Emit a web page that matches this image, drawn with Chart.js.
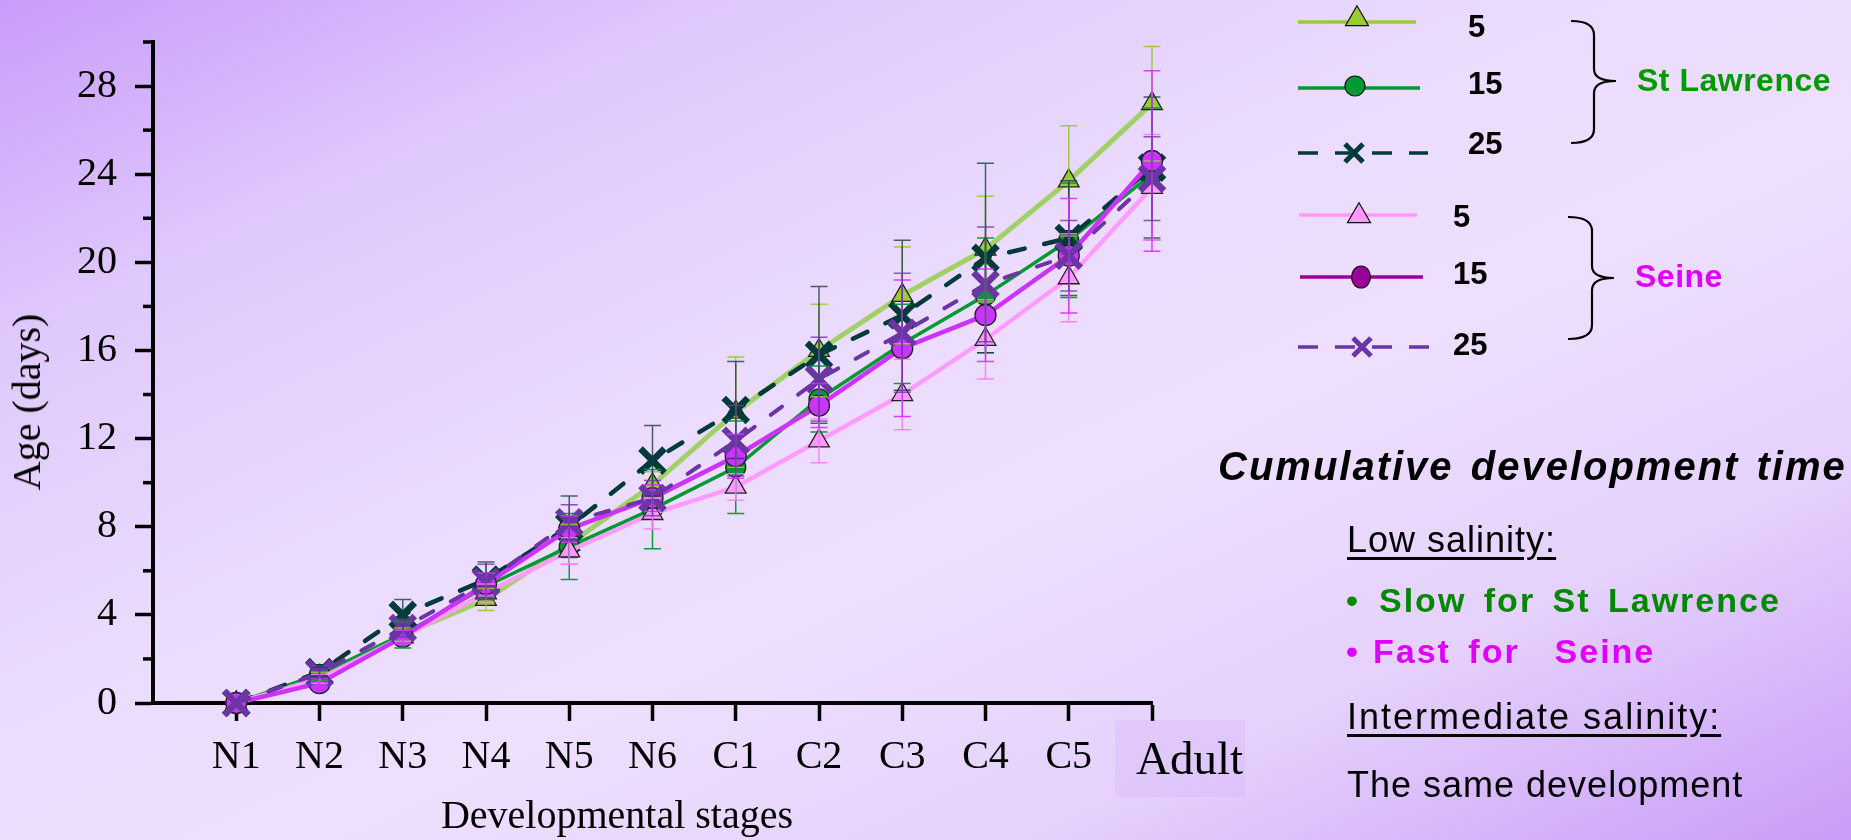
<!DOCTYPE html>
<html>
<head>
<meta charset="utf-8">
<script src="https://cdn.jsdelivr.net/npm/chart.js@4.4.1/dist/chart.umd.min.js"></script>
<style>
  html, body { margin: 0; padding: 0; }
  body {
    width: 1851px; height: 840px; overflow: hidden; position: relative;
    background: linear-gradient(to bottom right, #c99cfb 0%, #dfc8fc 20%, #ebdbfd 42%, #eedffd 58%, #e5d1fc 78%, #c99cf7 100%);
  }
  #wrap { position: absolute; left: 0; top: 0; width: 1851px; height: 840px; }
  .t { position: absolute; white-space: pre; line-height: 1; color: #000; }
  .serif { font-family: "Liberation Serif", "Times New Roman", serif; }
  .sans { font-family: "Liberation Sans", Arial, sans-serif; }
  .num { font-size: 31px; font-weight: bold; }
  .grp { font-size: 32px; font-weight: bold; letter-spacing: 0.5px; }
  .ul { text-decoration: underline; text-decoration-thickness: 3px; text-underline-offset: 5px; }
  .note { font-size: 36px; letter-spacing: 1px; }
  .bul { font-size: 34px; font-weight: bold; letter-spacing: 2px; word-spacing: 6px; }
  #adultBox { position: absolute; left: 1115px; top: 720px; width: 130px; height: 77px; background: rgba(205, 165, 250, 0.22); }
</style>
</head>
<body>
<div id="wrap"><canvas id="devChart" width="1851" height="840"></canvas></div>

<div id="adultBox"></div>
<div class="t serif" id="adultLabel" style="left:1136px; top:735px; font-size:47px;"></div>
<div class="t serif" style="left:617px; top:795px; font-size:40px; transform:translateX(-50%);">Developmental stages</div>
<div class="t serif" style="left:27px; top:402px; font-size:40px; transform:translate(-50%,-50%) rotate(-90deg);">Age (days)</div>

<div class="t sans num" style="left:1468px; top:11px;">5</div>
<div class="t sans num" style="left:1468px; top:68px;">15</div>
<div class="t sans num" style="left:1468px; top:128px;">25</div>
<div class="t sans num" style="left:1453px; top:201px;">5</div>
<div class="t sans num" style="left:1453px; top:258px;">15</div>
<div class="t sans num" style="left:1453px; top:329px;">25</div>
<div class="t sans grp" style="left:1637px; top:64px; color:#009900;">St Lawrence</div>
<div class="t sans grp" style="left:1635px; top:260px; color:#dd00ff;">Seine</div>

<div class="t sans" style="left:1218px; top:446px; font-size:40px; font-weight:bold; font-style:italic; letter-spacing:2px; word-spacing:4px;">Cumulative development time</div>
<div class="t sans note ul" style="left:1347px; top:522px;">Low salinity:</div>
<div class="t sans bul" style="left:1346px; top:583px; color:#008800;">•</div>
<div class="t sans bul" style="left:1379px; top:583px; color:#008800;">Slow for St Lawrence</div>
<div class="t sans bul" style="left:1346px; top:634px; color:#dd00ff;">•</div>
<div class="t sans bul" style="left:1373px; top:634px; color:#dd00ff;">Fast for  Seine</div>
<div class="t sans note ul" style="left:1347px; top:699px; letter-spacing:2px;">Intermediate salinity:</div>
<div class="t sans note" style="left:1347px; top:767px;">The same development</div>

<script>
// stages on the x axis
const stageLabels = ["N1", "N2", "N3", "N4", "N5", "N6", "C1", "C2", "C3", "C4", "C5", "Adult"];

// mean cumulative age (days) per salinity
const stLawrence5 = [0, 1.2, 3.1, 4.7, 7.2, 9.9, 13.2, 16.0, 18.5, 20.6, 23.7, 27.2];
const stLawrence15 = [0, 1.3, 3.1, 5.3, 7.1, 8.8, 10.7, 13.8, 16.3, 18.5, 21.0, 24.0];
const stLawrence25 = [0, 1.4, 4.0, 5.6, 8.0, 11.0, 13.3, 15.8, 17.6, 20.2, 21.1, 24.3];
const seine5 = [0, 1.1, 3.0, 5.0, 6.9, 8.6, 9.8, 11.9, 14.0, 16.5, 19.3, 23.4];
const seine15 = [0, 0.9, 3.0, 5.4, 7.9, 9.3, 11.2, 13.5, 16.1, 17.6, 20.3, 24.6];
const seine25 = [0, 1.35, 3.4, 5.5, 8.2, 9.3, 11.9, 14.7, 16.8, 19.0, 20.3, 23.8];

// error bars (+/-)
const stLawrence5Err = [0, 0.2, 0.3, 0.5, 0.9, 0.6, 2.5, 2.1, 2.2, 2.4, 2.5, 2.6];
const stLawrence15Err = [0, 0.3, 0.6, 0.6, 1.5, 1.8, 2.1, 1.5, 1.8, 2.6, 2.6, 3.0];
const stLawrence25Err = [0, 0.2, 0.7, 0.8, 1.4, 1.6, 2.2, 3.1, 3.4, 4.3, 2.6, 3.2];
const seine5Err = [0, 0.2, 0.3, 0.4, 0.6, 0.7, 0.6, 1.0, 1.6, 1.8, 2.0, 2.4];
const seine15Err = [0, 0.2, 0.3, 0.5, 0.6, 0.6, 1.0, 1.0, 3.1, 2.1, 2.6, 4.1];
const seine25Err = [0, 0.2, 0.4, 0.8, 0.8, 0.8, 1.6, 1.9, 2.7, 2.6, 1.6, 1.9];

document.getElementById("adultLabel").textContent = stageLabels[11];

const pts = (values) => values.map((v, i) => ({ x: i, y: v }));

// --- error bars, drawn over the points ---
const errorBars = {
  id: "errorBars",
  afterDatasetsDraw(chart) {
    const { ctx, scales: { x, y } } = chart;
    ctx.save();
    ctx.lineWidth = 1.5;
    chart.data.datasets.slice().sort((a, b) => b.order - a.order).forEach((ds) => {
      ctx.strokeStyle = ds.errColor;
      ds.err.forEach((e, i) => {
        if (!e) return;
        const v = ds.data[i].y;
        const px = x.getPixelForValue(i);
        const top = y.getPixelForValue(v + e);
        const bot = y.getPixelForValue(v - e);
        ctx.beginPath();
        ctx.moveTo(px, top); ctx.lineTo(px, bot);
        ctx.moveTo(px - 8.5, top); ctx.lineTo(px + 8.5, top);
        ctx.moveTo(px - 8.5, bot); ctx.lineTo(px + 8.5, bot);
        ctx.stroke();
      });
    });
    ctx.restore();
  }
};

// --- short unlabelled ticks on the y axis ---
const minorTicks = {
  id: "minorTicks",
  afterDraw(chart) {
    const { ctx, scales: { y }, chartArea } = chart;
    ctx.save();
    ctx.strokeStyle = "#000";
    ctx.lineWidth = 3.5;
    for (let v = 2; v <= 30; v += 4) {
      const py = y.getPixelForValue(v);
      ctx.beginPath();
      ctx.moveTo(chartArea.left - 10, py);
      ctx.lineTo(chartArea.left, py);
      ctx.stroke();
    }
    ctx.restore();
  }
};

// --- legend with braces ---
function triangle(ctx, x, y, r) {
  ctx.beginPath();
  ctx.moveTo(x, y - r);
  ctx.lineTo(x + r * 0.866, y + r / 2);
  ctx.lineTo(x - r * 0.866, y + r / 2);
  ctx.closePath();
  ctx.fill(); ctx.stroke();
}
function cross(ctx, x, y, h) {
  ctx.beginPath();
  ctx.moveTo(x - h, y - h); ctx.lineTo(x + h, y + h);
  ctx.moveTo(x + h, y - h); ctx.lineTo(x - h, y + h);
  ctx.stroke();
}
function brace(ctx, x0, xm, xp, y0, ym, y1) {
  ctx.beginPath();
  ctx.moveTo(x0, y0);
  ctx.quadraticCurveTo(xm, y0, xm, y0 + 14);
  ctx.lineTo(xm, ym - 12);
  ctx.quadraticCurveTo(xm, ym, xp, ym);
  ctx.quadraticCurveTo(xm, ym, xm, ym + 12);
  ctx.lineTo(xm, y1 - 14);
  ctx.quadraticCurveTo(xm, y1, x0, y1);
  ctx.stroke();
}
const sideLegend = {
  id: "sideLegend",
  afterDraw(chart) {
    const ctx = chart.ctx;
    ctx.save();
    ctx.lineCap = "butt";
    const seg = (x1, x2, y, color, w, dash) => {
      ctx.setLineDash(dash || []);
      ctx.strokeStyle = color; ctx.lineWidth = w;
      ctx.beginPath(); ctx.moveTo(x1, y); ctx.lineTo(x2, y); ctx.stroke();
      ctx.setLineDash([]);
    };
    // St Lawrence
    seg(1298, 1416, 22, "#99cc33", 3.5);
    ctx.fillStyle = "#99cc33"; ctx.strokeStyle = "#111"; ctx.lineWidth = 1.2;
    triangle(ctx, 1357, 19, 13.3);
    seg(1298, 1420, 88, "#009933", 3.5);
    ctx.fillStyle = "#009933"; ctx.strokeStyle = "#111"; ctx.lineWidth = 1.2;
    ctx.beginPath(); ctx.arc(1355, 86, 10, 0, Math.PI * 2); ctx.fill(); ctx.stroke();
    seg(1298, 1428, 153, "#003a3a", 3.5, [20, 17]);
    ctx.strokeStyle = "#003a3a"; ctx.lineWidth = 5;
    cross(ctx, 1354, 153, 9);
    // Seine
    seg(1299, 1417, 215, "#ff99ff", 3.5);
    ctx.fillStyle = "#ff99ff"; ctx.strokeStyle = "#111"; ctx.lineWidth = 1.2;
    triangle(ctx, 1359, 216, 13.3);
    seg(1300, 1423, 277, "#990099", 3.5);
    ctx.fillStyle = "#990099"; ctx.strokeStyle = "#111"; ctx.lineWidth = 1.2;
    ctx.beginPath(); ctx.ellipse(1361, 277, 9.5, 11, 0, 0, Math.PI * 2); ctx.fill(); ctx.stroke();
    seg(1298, 1434, 347, "#6b35a5", 3.5, [20, 17]);
    ctx.strokeStyle = "#6b35a5"; ctx.lineWidth = 5;
    cross(ctx, 1362, 347, 9);
    // braces
    ctx.strokeStyle = "#000"; ctx.lineWidth = 2.2;
    brace(ctx, 1571, 1594, 1616, 21, 81, 143);
    brace(ctx, 1568, 1592, 1614, 217, 278, 339);
    ctx.restore();
  }
};

const tickFont = { family: "Liberation Serif", size: 40 };

new Chart(document.getElementById("devChart").getContext("2d"), {
  type: "line",
  data: {
    datasets: [
      {
        label: "St Lawrence 5", data: pts(stLawrence5), err: stLawrence5Err, errColor: "rgba(150,200,50,0.9)",
        borderColor: "#a0d066", borderWidth: 5, pointStyle: "triangle", pointRadius: 12,
        pointBackgroundColor: "#99cc33", pointBorderColor: "#222", pointBorderWidth: 1.3, order: 6
      },
      {
        label: "St Lawrence 15", data: pts(stLawrence15), err: stLawrence15Err, errColor: "rgba(0,150,50,0.95)",
        borderColor: "#009933", borderWidth: 3.5, pointStyle: "circle", pointRadius: 10,
        pointBackgroundColor: "#009933", pointBorderColor: "#222", pointBorderWidth: 1.3, order: 5
      },
      {
        label: "St Lawrence 25", data: pts(stLawrence25), err: stLawrence25Err, errColor: "rgba(30,60,70,0.8)",
        borderColor: "#003a3a", borderWidth: 4.5, borderDash: [16, 20], borderCapStyle: "round",
        pointStyle: "crossRot", pointRadius: 17, pointBorderColor: "#003a3a", pointBorderWidth: 6.5, order: 4
      },
      {
        label: "Seine 5", data: pts(seine5), err: seine5Err, errColor: "rgba(255,120,255,0.9)",
        borderColor: "#ff9cff", borderWidth: 4.5, pointStyle: "triangle", pointRadius: 12,
        pointBackgroundColor: "#ff99ff", pointBorderColor: "#222", pointBorderWidth: 1.3, order: 3
      },
      {
        label: "Seine 15", data: pts(seine15), err: seine15Err, errColor: "rgba(210,50,255,0.9)",
        borderColor: "#cc33ff", borderWidth: 4.5, pointStyle: "circle", pointRadius: 10.5,
        pointBackgroundColor: "#cc33ff", pointBorderColor: "#222", pointBorderWidth: 1.3, order: 2
      },
      {
        label: "Seine 25", data: pts(seine25), err: seine25Err, errColor: "rgba(105,55,165,0.8)",
        borderColor: "#6b35a5", borderWidth: 4, borderDash: [14, 20], borderCapStyle: "round",
        pointStyle: "crossRot", pointRadius: 17, pointBorderColor: "#6b35a5", pointBorderWidth: 6.5, order: 1
      }
    ].map((ds) => Object.assign({ fill: false, tension: 0, clip: false, pointHoverRadius: ds.pointRadius }, ds))
  },
  options: {
    responsive: false,
    animation: false,
    events: [],
    layout: { padding: { left: 0, top: 37, right: 699, bottom: 0 } },
    plugins: { legend: { display: false }, tooltip: { enabled: false } },
    scales: {
      x: {
        type: "linear", min: -1, max: 11,
        afterFit: (s) => { s.height = 137; },
        border: { color: "#000", width: 4 },
        grid: {
          drawOnChartArea: false, tickLength: 18, tickWidth: 3.5,
          tickColor: (c) => (c.tick && c.tick.value >= 0 ? "#000" : "rgba(0,0,0,0)")
        },
        ticks: {
          stepSize: 1, autoSkip: false, maxRotation: 0, padding: 12, color: "#000", font: tickFont,
          callback: (v) => (v >= 0 && v < 11 ? stageLabels[v] : "")
        }
      },
      y: {
        min: 0, max: 30,
        afterFit: (s) => { s.width = 153; },
        border: { color: "#000", width: 4 },
        grid: {
          drawOnChartArea: false, tickLength: 18, tickWidth: 3.5,
          tickColor: (c) => (c.tick && c.tick.value % 4 === 0 ? "#000" : "rgba(0,0,0,0)")
        },
        ticks: {
          stepSize: 2, padding: 18, color: "#000", font: tickFont,
          callback: (v) => (v % 4 === 0 ? String(v) : "")
        }
      }
    }
  },
  plugins: [errorBars, minorTicks, sideLegend]
});
</script>
</body>
</html>
